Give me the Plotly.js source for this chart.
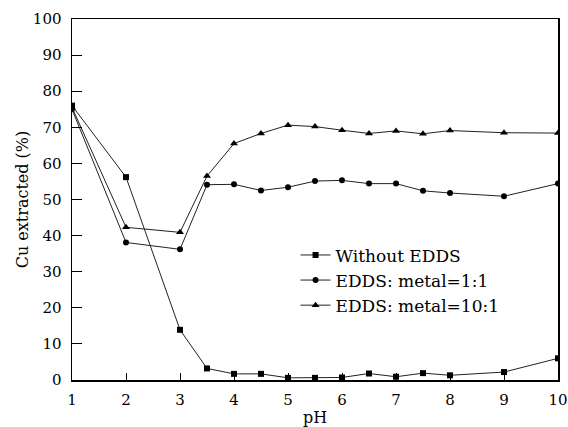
<!DOCTYPE html>
<html>
<head>
<meta charset="utf-8">
<script src="https://cdn.plot.ly/plotly-3.0.1.min.js"></script>
<style>html,body{margin:0;padding:0;background:#fff;}#chart{width:568px;height:427px;}</style>
</head>
<body>
<div id="chart"></div>
<script>
const pH = [1, 2, 3, 3.5, 4, 4.5, 5, 5.5, 6, 6.5, 7, 7.5, 8, 9, 10];
const withoutEDDS = [76, 56.2, 13.9, 3.2, 1.7, 1.7, 0.6, 0.6, 0.7, 1.8, 0.9, 1.9, 1.3, 2.2, 6];
const edds1to1 = [75, 38.1, 36.2, 54.1, 54.2, 52.5, 53.4, 55.1, 55.3, 54.4, 54.4, 52.4, 51.8, 50.9, 54.4];
const edds10to1 = [75.5, 42.3, 40.9, 56.5, 65.5, 68.3, 70.6, 70.2, 69.2, 68.3, 69, 68.2, 69.1, 68.5, 68.4];
const seriesNames = ["Without EDDS", "EDDS: metal=1:1", "EDDS: metal=10:1"];
const xTicks = [1, 2, 3, 4, 5, 6, 7, 8, 9, 10];
const yTicks = [0, 10, 20, 30, 40, 50, 60, 70, 80, 90, 100];

const fam = "DejaVu Serif";
const tickFont = {family: fam, size: 15, color: "#000"};
const legFont = {family: fam, size: 17, color: "#000"};
const titleFont = {family: fam, size: 16, color: "#000"};
const mk = (y, name, sym, size) => ({
  x: pH, y: y, name: name, type: "scatter", mode: "lines+markers",
  line: {color: "#222", width: 1},
  marker: {symbol: sym, size: size, color: "#000"}
});
const data = [
  mk(withoutEDDS, seriesNames[0], "square", 6),
  mk(edds1to1, seriesNames[1], "circle", 6),
  mk(edds10to1, seriesNames[2], "triangle-up", 7)
];
const layout = {
  width: 568, height: 427,
  margin: {l: 72, r: 10, t: 19, b: 47},
  paper_bgcolor: "#fff", plot_bgcolor: "#fff",
  font: tickFont,
  showlegend: true,
  legend: {x: 0.46, y: 0.395, xanchor: "left", yanchor: "top", bgcolor: "rgba(0,0,0,0)",
           font: legFont, tracegroupgap: 0},
  xaxis: {
    range: [1, 10], tickvals: xTicks, ticks: "inside", ticklen: 7, tickcolor: "#000", tickwidth: 1,
    showline: true, linecolor: "#000", linewidth: 1.5, mirror: true, showgrid: false, zeroline: false,
    tickfont: tickFont, ticklabelstandoff: 5, ticklabeloverflow: "allow",
    title: {text: "pH", font: titleFont, standoff: 6}
  },
  yaxis: {
    range: [0, 100], tickvals: yTicks, ticks: "inside", ticklen: 10, tickcolor: "#000", tickwidth: 1,
    showline: true, linecolor: "#000", linewidth: 1.5, mirror: true, showgrid: false, zeroline: false,
    tickfont: tickFont, ticklabelstandoff: 6, ticklabeloverflow: "allow",
    title: {text: "Cu extracted (%)", font: titleFont, standoff: 0}
  }
};
Plotly.newPlot("chart", data, layout, {displayModeBar: false, staticPlot: true});
</script>
</body>
</html>
